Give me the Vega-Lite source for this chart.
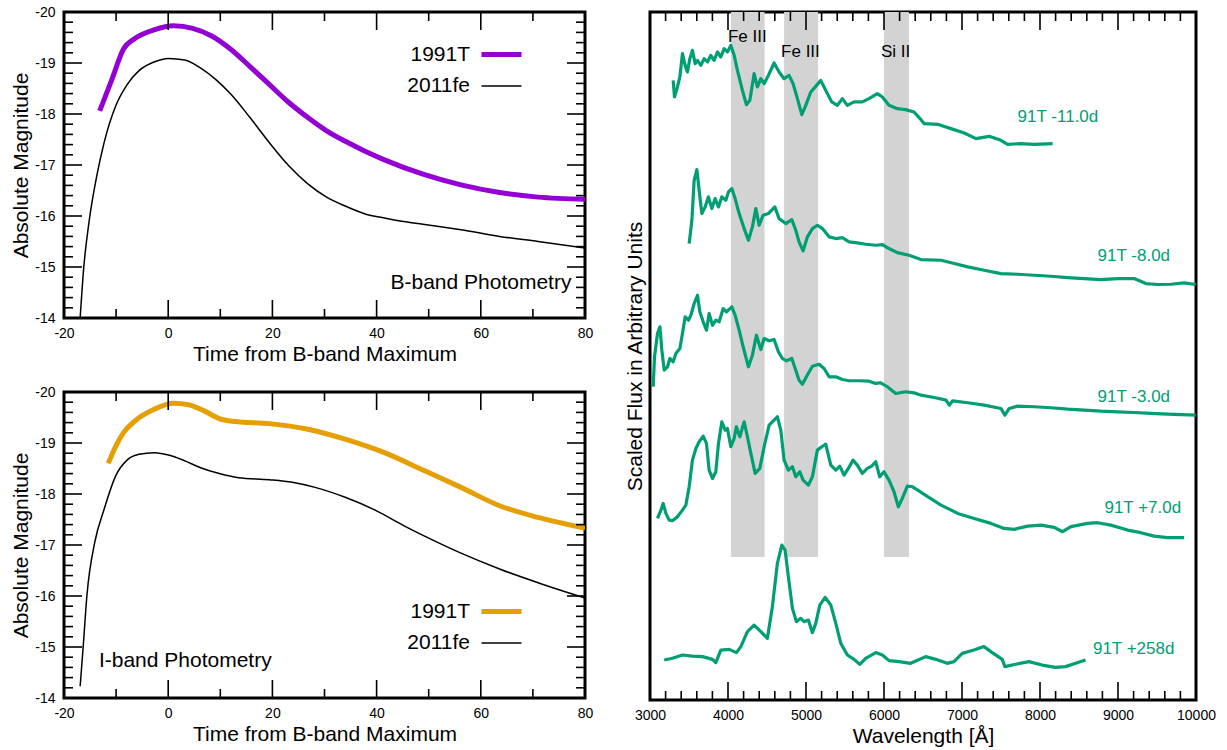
{
  "$schema": "https://vega.github.io/schema/vega-lite/v6.json",
  "background": "white",
  "padding": {"left": 9, "top": 3, "right": 5, "bottom": 5},
  "config": {
    "font": "Liberation Sans",
    "view": {"stroke": "black", "strokeWidth": 3},
    "axis": {
      "labelFont": "Liberation Sans", "titleFont": "Liberation Sans",
      "labelFontSize": 14, "titleFontSize": 21, "titleFontWeight": "normal",
      "labelColor": "black", "titleColor": "black",
      "domain": false, "grid": false, "ticks": false,
      "labelOverlap": false, "labelFlush": false
    },
    "legend": {"labelFont": "Liberation Sans"},
    "text": {"font": "Liberation Sans"}
  },
  "datasets": {
    "dayTicks": [{"t": -20}, {"t": -10}, {"t": 0}, {"t": 10}, {"t": 20}, {"t": 30}, {"t": 40}, {"t": 50}, {"t": 60}, {"t": 70}, {"t": 80}],
    "magTicks": [
      {"mag": -20}, {"mag": -19.8}, {"mag": -19.6}, {"mag": -19.4}, {"mag": -19.2}, {"mag": -19}, {"mag": -18.8}, {"mag": -18.6},
      {"mag": -18.4}, {"mag": -18.2}, {"mag": -18}, {"mag": -17.8}, {"mag": -17.6}, {"mag": -17.4}, {"mag": -17.2}, {"mag": -17},
      {"mag": -16.8}, {"mag": -16.6}, {"mag": -16.4}, {"mag": -16.2}, {"mag": -16}, {"mag": -15.8}, {"mag": -15.6}, {"mag": -15.4},
      {"mag": -15.2}, {"mag": -15}, {"mag": -14.8}, {"mag": -14.6}, {"mag": -14.4}, {"mag": -14.2}, {"mag": -14}
    ],
    "lamTicks": [
      {"lam": 3000}, {"lam": 3200}, {"lam": 3400}, {"lam": 3600}, {"lam": 3800}, {"lam": 4000}, {"lam": 4200}, {"lam": 4400},
      {"lam": 4600}, {"lam": 4800}, {"lam": 5000}, {"lam": 5200}, {"lam": 5400}, {"lam": 5600}, {"lam": 5800}, {"lam": 6000},
      {"lam": 6200}, {"lam": 6400}, {"lam": 6600}, {"lam": 6800}, {"lam": 7000}, {"lam": 7200}, {"lam": 7400}, {"lam": 7600},
      {"lam": 7800}, {"lam": 8000}, {"lam": 8200}, {"lam": 8400}, {"lam": 8600}, {"lam": 8800}, {"lam": 9000}, {"lam": 9200},
      {"lam": 9400}, {"lam": 9600}, {"lam": 9800}, {"lam": 10000}
    ],
    "bband": [
      {"sn": "1991T", "t": -13.15, "mag": -18.06}, {"sn": "1991T", "t": -10.8, "mag": -18.68},
      {"sn": "1991T", "t": -8.6, "mag": -19.27}, {"sn": "1991T", "t": -6.4, "mag": -19.48},
      {"sn": "1991T", "t": -2.7, "mag": -19.65}, {"sn": "1991T", "t": 1.0, "mag": -19.73},
      {"sn": "1991T", "t": 4.7, "mag": -19.68}, {"sn": "1991T", "t": 8.35, "mag": -19.53},
      {"sn": "1991T", "t": 12.0, "mag": -19.27}, {"sn": "1991T", "t": 15.7, "mag": -18.93},
      {"sn": "1991T", "t": 19.4, "mag": -18.58}, {"sn": "1991T", "t": 23.1, "mag": -18.23},
      {"sn": "1991T", "t": 26.8, "mag": -17.93}, {"sn": "1991T", "t": 30.4, "mag": -17.67},
      {"sn": "1991T", "t": 34.1, "mag": -17.46}, {"sn": "1991T", "t": 37.8, "mag": -17.27},
      {"sn": "1991T", "t": 41.5, "mag": -17.10}, {"sn": "1991T", "t": 48.9, "mag": -16.82},
      {"sn": "1991T", "t": 56.2, "mag": -16.61}, {"sn": "1991T", "t": 63.6, "mag": -16.46},
      {"sn": "1991T", "t": 71.0, "mag": -16.37}, {"sn": "1991T", "t": 80.0, "mag": -16.33},
      {"sn": "2011fe", "t": -16.9, "mag": -14.0}, {"sn": "2011fe", "t": -16.2, "mag": -15.0},
      {"sn": "2011fe", "t": -15.2, "mag": -15.88}, {"sn": "2011fe", "t": -13.7, "mag": -16.79},
      {"sn": "2011fe", "t": -12.3, "mag": -17.44}, {"sn": "2011fe", "t": -10.06, "mag": -18.16},
      {"sn": "2011fe", "t": -7.85, "mag": -18.58}, {"sn": "2011fe", "t": -5.6, "mag": -18.85},
      {"sn": "2011fe", "t": -2.7, "mag": -19.02}, {"sn": "2011fe", "t": 0.0, "mag": -19.09},
      {"sn": "2011fe", "t": 3.2, "mag": -19.06}, {"sn": "2011fe", "t": 6.1, "mag": -18.91},
      {"sn": "2011fe", "t": 9.1, "mag": -18.68}, {"sn": "2011fe", "t": 12.0, "mag": -18.39},
      {"sn": "2011fe", "t": 15.7, "mag": -17.93}, {"sn": "2011fe", "t": 19.4, "mag": -17.44},
      {"sn": "2011fe", "t": 23.1, "mag": -16.99}, {"sn": "2011fe", "t": 26.8, "mag": -16.63},
      {"sn": "2011fe", "t": 30.4, "mag": -16.37}, {"sn": "2011fe", "t": 34.1, "mag": -16.19},
      {"sn": "2011fe", "t": 37.8, "mag": -16.04}, {"sn": "2011fe", "t": 41.5, "mag": -15.96},
      {"sn": "2011fe", "t": 45.2, "mag": -15.89}, {"sn": "2011fe", "t": 48.9, "mag": -15.84},
      {"sn": "2011fe", "t": 56.2, "mag": -15.73}, {"sn": "2011fe", "t": 63.6, "mag": -15.60},
      {"sn": "2011fe", "t": 71.0, "mag": -15.50}, {"sn": "2011fe", "t": 80.0, "mag": -15.37}
    ],
    "iband": [
      {"sn": "1991T", "t": -11.5, "mag": -18.60}, {"sn": "1991T", "t": -10.06, "mag": -18.94},
      {"sn": "1991T", "t": -8.6, "mag": -19.2}, {"sn": "1991T", "t": -6.4, "mag": -19.43},
      {"sn": "1991T", "t": -2.7, "mag": -19.66}, {"sn": "1991T", "t": 1.0, "mag": -19.78},
      {"sn": "1991T", "t": 3.9, "mag": -19.75}, {"sn": "1991T", "t": 6.9, "mag": -19.63},
      {"sn": "1991T", "t": 9.8, "mag": -19.48}, {"sn": "1991T", "t": 12.8, "mag": -19.42},
      {"sn": "1991T", "t": 19.4, "mag": -19.38}, {"sn": "1991T", "t": 26.8, "mag": -19.27},
      {"sn": "1991T", "t": 34.1, "mag": -19.07}, {"sn": "1991T", "t": 41.5, "mag": -18.81},
      {"sn": "1991T", "t": 48.9, "mag": -18.47}, {"sn": "1991T", "t": 56.2, "mag": -18.13},
      {"sn": "1991T", "t": 63.6, "mag": -17.77}, {"sn": "1991T", "t": 71.0, "mag": -17.54},
      {"sn": "1991T", "t": 80.0, "mag": -17.33},
      {"sn": "2011fe", "t": -16.9, "mag": -14.23}, {"sn": "2011fe", "t": -16.3, "mag": -15.03},
      {"sn": "2011fe", "t": -15.6, "mag": -16.01}, {"sn": "2011fe", "t": -14.1, "mag": -17.05},
      {"sn": "2011fe", "t": -12.3, "mag": -17.70}, {"sn": "2011fe", "t": -10.06, "mag": -18.36},
      {"sn": "2011fe", "t": -7.85, "mag": -18.67}, {"sn": "2011fe", "t": -5.6, "mag": -18.78},
      {"sn": "2011fe", "t": -2.7, "mag": -18.81}, {"sn": "2011fe", "t": 0.25, "mag": -18.76},
      {"sn": "2011fe", "t": 3.2, "mag": -18.65}, {"sn": "2011fe", "t": 6.1, "mag": -18.52},
      {"sn": "2011fe", "t": 9.8, "mag": -18.40}, {"sn": "2011fe", "t": 13.5, "mag": -18.32},
      {"sn": "2011fe", "t": 19.4, "mag": -18.28}, {"sn": "2011fe", "t": 23.8, "mag": -18.23},
      {"sn": "2011fe", "t": 28.2, "mag": -18.13}, {"sn": "2011fe", "t": 34.1, "mag": -17.93},
      {"sn": "2011fe", "t": 40.0, "mag": -17.67}, {"sn": "2011fe", "t": 45.2, "mag": -17.38},
      {"sn": "2011fe", "t": 50.3, "mag": -17.12}, {"sn": "2011fe", "t": 56.2, "mag": -16.84},
      {"sn": "2011fe", "t": 63.6, "mag": -16.53}, {"sn": "2011fe", "t": 71.0, "mag": -16.26},
      {"sn": "2011fe", "t": 80.0, "mag": -15.96}
    ],
    "bands": [
      {"ion": "Fe III", "lo": 4037, "hi": 4469},
      {"ion": "Fe III", "lo": 4719, "hi": 5155},
      {"ion": "Si II", "lo": 5999, "hi": 6320}
    ],
    "spectra": [
      {"epoch": "-11.0d", "lam": 3297, "flux": 9.006}, {"epoch": "-11.0d", "lam": 3314, "flux": 8.765},
      {"epoch": "-11.0d", "lam": 3352, "flux": 8.911}, {"epoch": "-11.0d", "lam": 3383, "flux": 9.056},
      {"epoch": "-11.0d", "lam": 3416, "flux": 9.394}, {"epoch": "-11.0d", "lam": 3451, "flux": 9.224},
      {"epoch": "-11.0d", "lam": 3480, "flux": 9.128}, {"epoch": "-11.0d", "lam": 3511, "flux": 9.322},
      {"epoch": "-11.0d", "lam": 3544, "flux": 9.442}, {"epoch": "-11.0d", "lam": 3579, "flux": 9.249},
      {"epoch": "-11.0d", "lam": 3609, "flux": 9.297}, {"epoch": "-11.0d", "lam": 3652, "flux": 9.224},
      {"epoch": "-11.0d", "lam": 3694, "flux": 9.322}, {"epoch": "-11.0d", "lam": 3737, "flux": 9.274},
      {"epoch": "-11.0d", "lam": 3780, "flux": 9.370}, {"epoch": "-11.0d", "lam": 3822, "flux": 9.297},
      {"epoch": "-11.0d", "lam": 3865, "flux": 9.419}, {"epoch": "-11.0d", "lam": 3908, "flux": 9.346},
      {"epoch": "-11.0d", "lam": 3951, "flux": 9.467}, {"epoch": "-11.0d", "lam": 3993, "flux": 9.419},
      {"epoch": "-11.0d", "lam": 4036, "flux": 9.515}, {"epoch": "-11.0d", "lam": 4079, "flux": 9.370},
      {"epoch": "-11.0d", "lam": 4121, "flux": 9.151}, {"epoch": "-11.0d", "lam": 4185, "flux": 8.861},
      {"epoch": "-11.0d", "lam": 4236, "flux": 8.653}, {"epoch": "-11.0d", "lam": 4280, "flux": 8.716},
      {"epoch": "-11.0d", "lam": 4335, "flux": 9.104}, {"epoch": "-11.0d", "lam": 4377, "flux": 8.911},
      {"epoch": "-11.0d", "lam": 4421, "flux": 9.031}, {"epoch": "-11.0d", "lam": 4463, "flux": 8.958},
      {"epoch": "-11.0d", "lam": 4518, "flux": 9.079}, {"epoch": "-11.0d", "lam": 4591, "flux": 9.259},
      {"epoch": "-11.0d", "lam": 4655, "flux": 9.128}, {"epoch": "-11.0d", "lam": 4719, "flux": 9.031},
      {"epoch": "-11.0d", "lam": 4783, "flux": 9.079}, {"epoch": "-11.0d", "lam": 4835, "flux": 8.958},
      {"epoch": "-11.0d", "lam": 4890, "flux": 8.741}, {"epoch": "-11.0d", "lam": 4946, "flux": 8.508},
      {"epoch": "-11.0d", "lam": 4997, "flux": 8.643}, {"epoch": "-11.0d", "lam": 5061, "flux": 8.838},
      {"epoch": "-11.0d", "lam": 5125, "flux": 8.919}, {"epoch": "-11.0d", "lam": 5189, "flux": 9.006},
      {"epoch": "-11.0d", "lam": 5253, "flux": 8.861}, {"epoch": "-11.0d", "lam": 5330, "flux": 8.693},
      {"epoch": "-11.0d", "lam": 5402, "flux": 8.643}, {"epoch": "-11.0d", "lam": 5466, "flux": 8.741},
      {"epoch": "-11.0d", "lam": 5530, "flux": 8.643}, {"epoch": "-11.0d", "lam": 5616, "flux": 8.693},
      {"epoch": "-11.0d", "lam": 5722, "flux": 8.693}, {"epoch": "-11.0d", "lam": 5808, "flux": 8.741},
      {"epoch": "-11.0d", "lam": 5915, "flux": 8.813}, {"epoch": "-11.0d", "lam": 5979, "flux": 8.765},
      {"epoch": "-11.0d", "lam": 6064, "flux": 8.643}, {"epoch": "-11.0d", "lam": 6171, "flux": 8.595},
      {"epoch": "-11.0d", "lam": 6278, "flux": 8.581}, {"epoch": "-11.0d", "lam": 6385, "flux": 8.547},
      {"epoch": "-11.0d", "lam": 6474, "flux": 8.435}, {"epoch": "-11.0d", "lam": 6517, "flux": 8.377},
      {"epoch": "-11.0d", "lam": 6688, "flux": 8.367}, {"epoch": "-11.0d", "lam": 6859, "flux": 8.305},
      {"epoch": "-11.0d", "lam": 7029, "flux": 8.242}, {"epoch": "-11.0d", "lam": 7179, "flux": 8.160},
      {"epoch": "-11.0d", "lam": 7349, "flux": 8.193}, {"epoch": "-11.0d", "lam": 7499, "flux": 8.135},
      {"epoch": "-11.0d", "lam": 7585, "flux": 8.077}, {"epoch": "-11.0d", "lam": 7755, "flux": 8.087},
      {"epoch": "-11.0d", "lam": 7926, "flux": 8.077}, {"epoch": "-11.0d", "lam": 8162, "flux": 8.087},

      {"epoch": "-8.0d", "lam": 3502, "flux": 6.634}, {"epoch": "-8.0d", "lam": 3537, "flux": 6.973},
      {"epoch": "-8.0d", "lam": 3566, "flux": 7.554}, {"epoch": "-8.0d", "lam": 3601, "flux": 7.709},
      {"epoch": "-8.0d", "lam": 3630, "flux": 7.408}, {"epoch": "-8.0d", "lam": 3665, "flux": 7.070},
      {"epoch": "-8.0d", "lam": 3707, "flux": 7.167}, {"epoch": "-8.0d", "lam": 3749, "flux": 7.313},
      {"epoch": "-8.0d", "lam": 3793, "flux": 7.143}, {"epoch": "-8.0d", "lam": 3835, "flux": 7.288},
      {"epoch": "-8.0d", "lam": 3878, "flux": 7.167}, {"epoch": "-8.0d", "lam": 3921, "flux": 7.313},
      {"epoch": "-8.0d", "lam": 3972, "flux": 7.263}, {"epoch": "-8.0d", "lam": 4006, "flux": 7.385},
      {"epoch": "-8.0d", "lam": 4049, "flux": 7.433}, {"epoch": "-8.0d", "lam": 4091, "flux": 7.288},
      {"epoch": "-8.0d", "lam": 4143, "flux": 7.070}, {"epoch": "-8.0d", "lam": 4207, "flux": 6.852},
      {"epoch": "-8.0d", "lam": 4262, "flux": 6.682}, {"epoch": "-8.0d", "lam": 4313, "flux": 6.877},
      {"epoch": "-8.0d", "lam": 4357, "flux": 7.143}, {"epoch": "-8.0d", "lam": 4399, "flux": 6.900},
      {"epoch": "-8.0d", "lam": 4450, "flux": 7.045}, {"epoch": "-8.0d", "lam": 4518, "flux": 7.070},
      {"epoch": "-8.0d", "lam": 4600, "flux": 7.167}, {"epoch": "-8.0d", "lam": 4655, "flux": 6.997},
      {"epoch": "-8.0d", "lam": 4741, "flux": 6.925}, {"epoch": "-8.0d", "lam": 4818, "flux": 6.983},
      {"epoch": "-8.0d", "lam": 4869, "flux": 6.827}, {"epoch": "-8.0d", "lam": 4911, "flux": 6.659},
      {"epoch": "-8.0d", "lam": 4963, "flux": 6.528}, {"epoch": "-8.0d", "lam": 5018, "flux": 6.732},
      {"epoch": "-8.0d", "lam": 5082, "flux": 6.852}, {"epoch": "-8.0d", "lam": 5146, "flux": 6.900},
      {"epoch": "-8.0d", "lam": 5210, "flux": 6.852}, {"epoch": "-8.0d", "lam": 5296, "flux": 6.732},
      {"epoch": "-8.0d", "lam": 5382, "flux": 6.707}, {"epoch": "-8.0d", "lam": 5466, "flux": 6.721},
      {"epoch": "-8.0d", "lam": 5552, "flux": 6.659}, {"epoch": "-8.0d", "lam": 5658, "flux": 6.644},
      {"epoch": "-8.0d", "lam": 5766, "flux": 6.624}, {"epoch": "-8.0d", "lam": 5894, "flux": 6.610},
      {"epoch": "-8.0d", "lam": 5979, "flux": 6.620}, {"epoch": "-8.0d", "lam": 6064, "flux": 6.562},
      {"epoch": "-8.0d", "lam": 6171, "flux": 6.503}, {"epoch": "-8.0d", "lam": 6321, "flux": 6.464},
      {"epoch": "-8.0d", "lam": 6474, "flux": 6.402}, {"epoch": "-8.0d", "lam": 6731, "flux": 6.392},
      {"epoch": "-8.0d", "lam": 6901, "flux": 6.344}, {"epoch": "-8.0d", "lam": 7073, "flux": 6.296},
      {"epoch": "-8.0d", "lam": 7285, "flux": 6.246}, {"epoch": "-8.0d", "lam": 7499, "flux": 6.198},
      {"epoch": "-8.0d", "lam": 7713, "flux": 6.188}, {"epoch": "-8.0d", "lam": 7926, "flux": 6.174},
      {"epoch": "-8.0d", "lam": 8140, "flux": 6.159}, {"epoch": "-8.0d", "lam": 8354, "flux": 6.140},
      {"epoch": "-8.0d", "lam": 8567, "flux": 6.126}, {"epoch": "-8.0d", "lam": 8780, "flux": 6.111},
      {"epoch": "-8.0d", "lam": 8994, "flux": 6.126}, {"epoch": "-8.0d", "lam": 9207, "flux": 6.126},
      {"epoch": "-8.0d", "lam": 9357, "flux": 6.053}, {"epoch": "-8.0d", "lam": 9507, "flux": 6.039},
      {"epoch": "-8.0d", "lam": 9678, "flux": 6.043}, {"epoch": "-8.0d", "lam": 9848, "flux": 6.063},
      {"epoch": "-8.0d", "lam": 9998, "flux": 6.039},

      {"epoch": "-3.0d", "lam": 3041, "flux": 4.553}, {"epoch": "-3.0d", "lam": 3058, "flux": 4.988},
      {"epoch": "-3.0d", "lam": 3096, "flux": 5.327}, {"epoch": "-3.0d", "lam": 3127, "flux": 5.424},
      {"epoch": "-3.0d", "lam": 3152, "flux": 5.084}, {"epoch": "-3.0d", "lam": 3182, "flux": 4.794},
      {"epoch": "-3.0d", "lam": 3224, "flux": 4.843}, {"epoch": "-3.0d", "lam": 3255, "flux": 4.964},
      {"epoch": "-3.0d", "lam": 3297, "flux": 4.916}, {"epoch": "-3.0d", "lam": 3332, "flux": 5.036},
      {"epoch": "-3.0d", "lam": 3383, "flux": 5.109}, {"epoch": "-3.0d", "lam": 3416, "flux": 5.327},
      {"epoch": "-3.0d", "lam": 3451, "flux": 5.569}, {"epoch": "-3.0d", "lam": 3493, "flux": 5.520},
      {"epoch": "-3.0d", "lam": 3524, "flux": 5.593}, {"epoch": "-3.0d", "lam": 3566, "flux": 5.763},
      {"epoch": "-3.0d", "lam": 3609, "flux": 5.883}, {"epoch": "-3.0d", "lam": 3639, "flux": 5.642},
      {"epoch": "-3.0d", "lam": 3682, "flux": 5.497}, {"epoch": "-3.0d", "lam": 3724, "flux": 5.375},
      {"epoch": "-3.0d", "lam": 3758, "flux": 5.617}, {"epoch": "-3.0d", "lam": 3801, "flux": 5.447},
      {"epoch": "-3.0d", "lam": 3844, "flux": 5.520}, {"epoch": "-3.0d", "lam": 3887, "flux": 5.497},
      {"epoch": "-3.0d", "lam": 3938, "flux": 5.690}, {"epoch": "-3.0d", "lam": 3980, "flux": 5.642},
      {"epoch": "-3.0d", "lam": 4049, "flux": 5.715}, {"epoch": "-3.0d", "lam": 4091, "flux": 5.593},
      {"epoch": "-3.0d", "lam": 4143, "flux": 5.375}, {"epoch": "-3.0d", "lam": 4194, "flux": 5.134},
      {"epoch": "-3.0d", "lam": 4262, "flux": 4.843}, {"epoch": "-3.0d", "lam": 4313, "flux": 5.012},
      {"epoch": "-3.0d", "lam": 4364, "flux": 5.302}, {"epoch": "-3.0d", "lam": 4421, "flux": 5.094},
      {"epoch": "-3.0d", "lam": 4463, "flux": 5.254}, {"epoch": "-3.0d", "lam": 4527, "flux": 5.221},
      {"epoch": "-3.0d", "lam": 4591, "flux": 5.240}, {"epoch": "-3.0d", "lam": 4646, "flux": 5.061},
      {"epoch": "-3.0d", "lam": 4697, "flux": 4.964}, {"epoch": "-3.0d", "lam": 4749, "flux": 4.930},
      {"epoch": "-3.0d", "lam": 4818, "flux": 4.964}, {"epoch": "-3.0d", "lam": 4869, "flux": 4.794},
      {"epoch": "-3.0d", "lam": 4911, "flux": 4.648}, {"epoch": "-3.0d", "lam": 4954, "flux": 4.590},
      {"epoch": "-3.0d", "lam": 5005, "flux": 4.698}, {"epoch": "-3.0d", "lam": 5082, "flux": 4.852},
      {"epoch": "-3.0d", "lam": 5168, "flux": 4.881}, {"epoch": "-3.0d", "lam": 5232, "flux": 4.818},
      {"epoch": "-3.0d", "lam": 5296, "flux": 4.698}, {"epoch": "-3.0d", "lam": 5382, "flux": 4.698},
      {"epoch": "-3.0d", "lam": 5466, "flux": 4.659}, {"epoch": "-3.0d", "lam": 5552, "flux": 4.640},
      {"epoch": "-3.0d", "lam": 5680, "flux": 4.640}, {"epoch": "-3.0d", "lam": 5808, "flux": 4.634},
      {"epoch": "-3.0d", "lam": 5894, "flux": 4.601}, {"epoch": "-3.0d", "lam": 5958, "flux": 4.611},
      {"epoch": "-3.0d", "lam": 6043, "flux": 4.553}, {"epoch": "-3.0d", "lam": 6150, "flux": 4.455},
      {"epoch": "-3.0d", "lam": 6278, "flux": 4.480}, {"epoch": "-3.0d", "lam": 6385, "flux": 4.465},
      {"epoch": "-3.0d", "lam": 6474, "flux": 4.431}, {"epoch": "-3.0d", "lam": 6645, "flux": 4.397},
      {"epoch": "-3.0d", "lam": 6795, "flux": 4.358}, {"epoch": "-3.0d", "lam": 6837, "flux": 4.285},
      {"epoch": "-3.0d", "lam": 6880, "flux": 4.349}, {"epoch": "-3.0d", "lam": 7073, "flux": 4.320},
      {"epoch": "-3.0d", "lam": 7285, "flux": 4.285}, {"epoch": "-3.0d", "lam": 7499, "flux": 4.237},
      {"epoch": "-3.0d", "lam": 7550, "flux": 4.140}, {"epoch": "-3.0d", "lam": 7606, "flux": 4.237},
      {"epoch": "-3.0d", "lam": 7713, "flux": 4.271}, {"epoch": "-3.0d", "lam": 7926, "flux": 4.262},
      {"epoch": "-3.0d", "lam": 8140, "flux": 4.248}, {"epoch": "-3.0d", "lam": 8354, "flux": 4.227},
      {"epoch": "-3.0d", "lam": 8567, "flux": 4.213}, {"epoch": "-3.0d", "lam": 8780, "flux": 4.198},
      {"epoch": "-3.0d", "lam": 8994, "flux": 4.189}, {"epoch": "-3.0d", "lam": 9207, "flux": 4.179},
      {"epoch": "-3.0d", "lam": 9420, "flux": 4.165}, {"epoch": "-3.0d", "lam": 9635, "flux": 4.155},
      {"epoch": "-3.0d", "lam": 9997, "flux": 4.140},

      {"epoch": "+7.0d", "lam": 3096, "flux": 2.639}, {"epoch": "+7.0d", "lam": 3140, "flux": 2.760},
      {"epoch": "+7.0d", "lam": 3169, "flux": 2.857}, {"epoch": "+7.0d", "lam": 3204, "flux": 2.712},
      {"epoch": "+7.0d", "lam": 3246, "flux": 2.615}, {"epoch": "+7.0d", "lam": 3288, "flux": 2.606},
      {"epoch": "+7.0d", "lam": 3352, "flux": 2.664}, {"epoch": "+7.0d", "lam": 3416, "flux": 2.760},
      {"epoch": "+7.0d", "lam": 3460, "flux": 2.833}, {"epoch": "+7.0d", "lam": 3502, "flux": 3.100},
      {"epoch": "+7.0d", "lam": 3544, "flux": 3.486}, {"epoch": "+7.0d", "lam": 3588, "flux": 3.656},
      {"epoch": "+7.0d", "lam": 3630, "flux": 3.754}, {"epoch": "+7.0d", "lam": 3682, "flux": 3.835},
      {"epoch": "+7.0d", "lam": 3724, "flux": 3.729}, {"epoch": "+7.0d", "lam": 3758, "flux": 3.341},
      {"epoch": "+7.0d", "lam": 3801, "flux": 3.220}, {"epoch": "+7.0d", "lam": 3844, "flux": 3.318},
      {"epoch": "+7.0d", "lam": 3878, "flux": 3.729}, {"epoch": "+7.0d", "lam": 3921, "flux": 4.044},
      {"epoch": "+7.0d", "lam": 3963, "flux": 3.922}, {"epoch": "+7.0d", "lam": 3993, "flux": 3.947},
      {"epoch": "+7.0d", "lam": 4036, "flux": 3.681}, {"epoch": "+7.0d", "lam": 4079, "flux": 3.802},
      {"epoch": "+7.0d", "lam": 4108, "flux": 3.972}, {"epoch": "+7.0d", "lam": 4152, "flux": 3.826},
      {"epoch": "+7.0d", "lam": 4207, "flux": 4.044}, {"epoch": "+7.0d", "lam": 4249, "flux": 3.826},
      {"epoch": "+7.0d", "lam": 4293, "flux": 3.584}, {"epoch": "+7.0d", "lam": 4348, "flux": 3.293},
      {"epoch": "+7.0d", "lam": 4408, "flux": 3.366}, {"epoch": "+7.0d", "lam": 4463, "flux": 3.681},
      {"epoch": "+7.0d", "lam": 4527, "flux": 3.995}, {"epoch": "+7.0d", "lam": 4591, "flux": 4.067},
      {"epoch": "+7.0d", "lam": 4633, "flux": 4.117}, {"epoch": "+7.0d", "lam": 4677, "flux": 3.922},
      {"epoch": "+7.0d", "lam": 4719, "flux": 3.486}, {"epoch": "+7.0d", "lam": 4774, "flux": 3.341},
      {"epoch": "+7.0d", "lam": 4826, "flux": 3.390}, {"epoch": "+7.0d", "lam": 4869, "flux": 3.245},
      {"epoch": "+7.0d", "lam": 4920, "flux": 3.318}, {"epoch": "+7.0d", "lam": 4963, "flux": 3.196},
      {"epoch": "+7.0d", "lam": 5031, "flux": 3.123}, {"epoch": "+7.0d", "lam": 5082, "flux": 3.245},
      {"epoch": "+7.0d", "lam": 5146, "flux": 3.632}, {"epoch": "+7.0d", "lam": 5202, "flux": 3.681},
      {"epoch": "+7.0d", "lam": 5253, "flux": 3.719}, {"epoch": "+7.0d", "lam": 5318, "flux": 3.414},
      {"epoch": "+7.0d", "lam": 5382, "flux": 3.341}, {"epoch": "+7.0d", "lam": 5433, "flux": 3.399},
      {"epoch": "+7.0d", "lam": 5488, "flux": 3.268}, {"epoch": "+7.0d", "lam": 5543, "flux": 3.366},
      {"epoch": "+7.0d", "lam": 5603, "flux": 3.486}, {"epoch": "+7.0d", "lam": 5658, "flux": 3.414},
      {"epoch": "+7.0d", "lam": 5722, "flux": 3.293}, {"epoch": "+7.0d", "lam": 5786, "flux": 3.366},
      {"epoch": "+7.0d", "lam": 5843, "flux": 3.399}, {"epoch": "+7.0d", "lam": 5894, "flux": 3.463},
      {"epoch": "+7.0d", "lam": 5945, "flux": 3.245}, {"epoch": "+7.0d", "lam": 6000, "flux": 3.318},
      {"epoch": "+7.0d", "lam": 6064, "flux": 3.196}, {"epoch": "+7.0d", "lam": 6128, "flux": 3.027},
      {"epoch": "+7.0d", "lam": 6184, "flux": 2.809}, {"epoch": "+7.0d", "lam": 6235, "flux": 2.930},
      {"epoch": "+7.0d", "lam": 6299, "flux": 3.109}, {"epoch": "+7.0d", "lam": 6363, "flux": 3.100},
      {"epoch": "+7.0d", "lam": 6432, "flux": 3.051}, {"epoch": "+7.0d", "lam": 6560, "flux": 2.955},
      {"epoch": "+7.0d", "lam": 6731, "flux": 2.833}, {"epoch": "+7.0d", "lam": 6945, "flux": 2.712},
      {"epoch": "+7.0d", "lam": 7157, "flux": 2.639}, {"epoch": "+7.0d", "lam": 7371, "flux": 2.567},
      {"epoch": "+7.0d", "lam": 7542, "flux": 2.494}, {"epoch": "+7.0d", "lam": 7670, "flux": 2.480},
      {"epoch": "+7.0d", "lam": 7841, "flux": 2.528}, {"epoch": "+7.0d", "lam": 8012, "flux": 2.542},
      {"epoch": "+7.0d", "lam": 8182, "flux": 2.509}, {"epoch": "+7.0d", "lam": 8290, "flux": 2.446},
      {"epoch": "+7.0d", "lam": 8396, "flux": 2.519}, {"epoch": "+7.0d", "lam": 8610, "flux": 2.567},
      {"epoch": "+7.0d", "lam": 8738, "flux": 2.577}, {"epoch": "+7.0d", "lam": 8908, "flux": 2.542},
      {"epoch": "+7.0d", "lam": 9122, "flux": 2.470}, {"epoch": "+7.0d", "lam": 9293, "flux": 2.432},
      {"epoch": "+7.0d", "lam": 9463, "flux": 2.382}, {"epoch": "+7.0d", "lam": 9635, "flux": 2.359},
      {"epoch": "+7.0d", "lam": 9848, "flux": 2.359},

      {"epoch": "+258d", "lam": 3182, "flux": 0.581}, {"epoch": "+258d", "lam": 3288, "flux": 0.606},
      {"epoch": "+258d", "lam": 3416, "flux": 0.654}, {"epoch": "+258d", "lam": 3544, "flux": 0.639},
      {"epoch": "+258d", "lam": 3673, "flux": 0.630}, {"epoch": "+258d", "lam": 3801, "flux": 0.591},
      {"epoch": "+258d", "lam": 3844, "flux": 0.543}, {"epoch": "+258d", "lam": 3908, "flux": 0.726},
      {"epoch": "+258d", "lam": 4015, "flux": 0.736}, {"epoch": "+258d", "lam": 4108, "flux": 0.689},
      {"epoch": "+258d", "lam": 4165, "flux": 0.776}, {"epoch": "+258d", "lam": 4249, "flux": 0.994},
      {"epoch": "+258d", "lam": 4335, "flux": 1.089}, {"epoch": "+258d", "lam": 4421, "flux": 0.994},
      {"epoch": "+258d", "lam": 4505, "flux": 0.896}, {"epoch": "+258d", "lam": 4569, "flux": 1.357},
      {"epoch": "+258d", "lam": 4633, "flux": 1.986}, {"epoch": "+258d", "lam": 4690, "flux": 2.252},
      {"epoch": "+258d", "lam": 4732, "flux": 2.179}, {"epoch": "+258d", "lam": 4774, "flux": 1.793},
      {"epoch": "+258d", "lam": 4826, "flux": 1.332}, {"epoch": "+258d", "lam": 4877, "flux": 1.139},
      {"epoch": "+258d", "lam": 4933, "flux": 1.187}, {"epoch": "+258d", "lam": 4975, "flux": 1.139},
      {"epoch": "+258d", "lam": 5031, "flux": 1.162}, {"epoch": "+258d", "lam": 5082, "flux": 0.979},
      {"epoch": "+258d", "lam": 5125, "flux": 1.114}, {"epoch": "+258d", "lam": 5177, "flux": 1.380},
      {"epoch": "+258d", "lam": 5245, "flux": 1.492}, {"epoch": "+258d", "lam": 5318, "flux": 1.380},
      {"epoch": "+258d", "lam": 5382, "flux": 1.114}, {"epoch": "+258d", "lam": 5446, "flux": 0.824},
      {"epoch": "+258d", "lam": 5530, "flux": 0.654}, {"epoch": "+258d", "lam": 5616, "flux": 0.591},
      {"epoch": "+258d", "lam": 5689, "flux": 0.519}, {"epoch": "+258d", "lam": 5766, "flux": 0.606},
      {"epoch": "+258d", "lam": 5894, "flux": 0.689}, {"epoch": "+258d", "lam": 5979, "flux": 0.654},
      {"epoch": "+258d", "lam": 6064, "flux": 0.572}, {"epoch": "+258d", "lam": 6193, "flux": 0.558},
      {"epoch": "+258d", "lam": 6342, "flux": 0.533}, {"epoch": "+258d", "lam": 6535, "flux": 0.630},
      {"epoch": "+258d", "lam": 6663, "flux": 0.591}, {"epoch": "+258d", "lam": 6811, "flux": 0.533},
      {"epoch": "+258d", "lam": 6897, "flux": 0.558}, {"epoch": "+258d", "lam": 7003, "flux": 0.678},
      {"epoch": "+258d", "lam": 7153, "flux": 0.726}, {"epoch": "+258d", "lam": 7281, "flux": 0.776},
      {"epoch": "+258d", "lam": 7388, "flux": 0.689}, {"epoch": "+258d", "lam": 7516, "flux": 0.591},
      {"epoch": "+258d", "lam": 7550, "flux": 0.485}, {"epoch": "+258d", "lam": 7688, "flux": 0.519},
      {"epoch": "+258d", "lam": 7858, "flux": 0.558}, {"epoch": "+258d", "lam": 8028, "flux": 0.508},
      {"epoch": "+258d", "lam": 8200, "flux": 0.475}, {"epoch": "+258d", "lam": 8328, "flux": 0.485},
      {"epoch": "+258d", "lam": 8456, "flux": 0.533}, {"epoch": "+258d", "lam": 8584, "flux": 0.581}
    ]
  },
  "hconcat": [
    {
      "vconcat": [
        {
          "width": 521, "height": 306,
          "layer": [
            {
              "data": {"name": "bband"},
              "mark": {"type": "line", "interpolate": "monotone", "clip": true},
              "encoding": {
                "x": {"field": "t", "type": "quantitative", "scale": {"domain": [-20, 80], "nice": false, "zero": false},
                  "axis": {"orient": "bottom", "values": [-20, 0, 20, 40, 60, 80],
                    "labelExpr": "'' + datum.value", "labelPadding": 8, "title": "Time from B-band Maximum", "titlePadding": 3}},
                "y": {"field": "mag", "type": "quantitative", "scale": {"domain": [-20, -14], "reverse": true, "nice": false, "zero": false},
                  "axis": {"orient": "left", "values": [-20, -19, -18, -17, -16, -15, -14],
                    "labelExpr": "'' + datum.value", "labelPadding": 9, "title": "Absolute Magnitude", "titlePadding": 3}},
                "color": {"field": "sn", "type": "nominal", "scale": {"domain": ["1991T", "2011fe"], "range": ["#9400D3", "#000000"]},
                  "legend": {"orient": "none", "legendX": 415, "legendY": 20, "title": null, "columns": 1, "symbolType": "stroke", "symbolSize": 1600,
                    "labelAlign": "right", "labelOffset": -54, "labelFontSize": 21, "labelColor": "black", "rowPadding": 0, "padding": 0}},
                "strokeWidth": {"field": "sn", "type": "nominal", "scale": {"domain": ["1991T", "2011fe"], "range": [5, 1.5]},
                  "legend": {"orient": "none", "legendX": 415, "legendY": 20, "title": null, "columns": 1, "symbolType": "stroke", "symbolSize": 1600,
                    "labelAlign": "right", "labelOffset": -54, "labelFontSize": 21, "labelColor": "black", "rowPadding": 0, "padding": 0}}
              }
            },
            {
              "data": {"values": [{"label": "B-band Photometry"}]},
              "mark": {"type": "text", "align": "right", "baseline": "middle", "fontSize": 21, "color": "black"},
              "encoding": {
                "x": {"datum": 77.4, "type": "quantitative", "scale": {"domain": [-20, 80], "nice": false, "zero": false}, "axis": null},
                "y": {"datum": -14.68, "type": "quantitative", "scale": {"domain": [-20, -14], "reverse": true, "nice": false, "zero": false}, "axis": null},
                "text": {"field": "label"}
              }
            },
            {
              "data": {"name": "dayTicks"}, "transform": [{"filter": "datum.t % 20 === 0"}],
              "mark": {"type": "rule", "color": "black", "strokeWidth": 1.6},
              "encoding": {
                "x": {"field": "t", "type": "quantitative", "scale": {"domain": [-20, 80], "nice": false, "zero": false}, "axis": null},
                "y": {"datum": -14, "type": "quantitative", "scale": {"domain": [-20, -14], "reverse": true, "nice": false, "zero": false}, "axis": null},
                "y2": {"datum": -14.353}
              }
            },
            {
              "data": {"name": "dayTicks"}, "transform": [{"filter": "datum.t % 20 === 0"}],
              "mark": {"type": "rule", "color": "black", "strokeWidth": 1.6},
              "encoding": {
                "x": {"field": "t", "type": "quantitative", "scale": {"domain": [-20, 80], "nice": false, "zero": false}, "axis": null},
                "y": {"datum": -20, "type": "quantitative", "scale": {"domain": [-20, -14], "reverse": true, "nice": false, "zero": false}, "axis": null},
                "y2": {"datum": -19.647}
              }
            },
            {
              "data": {"name": "dayTicks"}, "transform": [{"filter": "datum.t % 20 !== 0"}],
              "mark": {"type": "rule", "color": "black", "strokeWidth": 1.6},
              "encoding": {
                "x": {"field": "t", "type": "quantitative", "scale": {"domain": [-20, 80], "nice": false, "zero": false}, "axis": null},
                "y": {"datum": -14, "type": "quantitative", "scale": {"domain": [-20, -14], "reverse": true, "nice": false, "zero": false}, "axis": null},
                "y2": {"datum": -14.176}
              }
            },
            {
              "data": {"name": "dayTicks"}, "transform": [{"filter": "datum.t % 20 !== 0"}],
              "mark": {"type": "rule", "color": "black", "strokeWidth": 1.6},
              "encoding": {
                "x": {"field": "t", "type": "quantitative", "scale": {"domain": [-20, 80], "nice": false, "zero": false}, "axis": null},
                "y": {"datum": -20, "type": "quantitative", "scale": {"domain": [-20, -14], "reverse": true, "nice": false, "zero": false}, "axis": null},
                "y2": {"datum": -19.824}
              }
            },
            {
              "data": {"name": "magTicks"}, "transform": [{"filter": "abs(datum.mag - round(datum.mag)) < 0.01"}],
              "mark": {"type": "rule", "color": "black", "strokeWidth": 1.6},
              "encoding": {
                "y": {"field": "mag", "type": "quantitative", "scale": {"domain": [-20, -14], "reverse": true, "nice": false, "zero": false}, "axis": null},
                "x": {"datum": -20, "type": "quantitative", "scale": {"domain": [-20, 80], "nice": false, "zero": false}, "axis": null},
                "x2": {"datum": -16.545}
              }
            },
            {
              "data": {"name": "magTicks"}, "transform": [{"filter": "abs(datum.mag - round(datum.mag)) < 0.01"}],
              "mark": {"type": "rule", "color": "black", "strokeWidth": 1.6},
              "encoding": {
                "y": {"field": "mag", "type": "quantitative", "scale": {"domain": [-20, -14], "reverse": true, "nice": false, "zero": false}, "axis": null},
                "x": {"datum": 80, "type": "quantitative", "scale": {"domain": [-20, 80], "nice": false, "zero": false}, "axis": null},
                "x2": {"datum": 76.545}
              }
            },
            {
              "data": {"name": "magTicks"}, "transform": [{"filter": "abs(datum.mag - round(datum.mag)) >= 0.01"}],
              "mark": {"type": "rule", "color": "black", "strokeWidth": 1.6},
              "encoding": {
                "y": {"field": "mag", "type": "quantitative", "scale": {"domain": [-20, -14], "reverse": true, "nice": false, "zero": false}, "axis": null},
                "x": {"datum": -20, "type": "quantitative", "scale": {"domain": [-20, 80], "nice": false, "zero": false}, "axis": null},
                "x2": {"datum": -18.273}
              }
            },
            {
              "data": {"name": "magTicks"}, "transform": [{"filter": "abs(datum.mag - round(datum.mag)) >= 0.01"}],
              "mark": {"type": "rule", "color": "black", "strokeWidth": 1.6},
              "encoding": {
                "y": {"field": "mag", "type": "quantitative", "scale": {"domain": [-20, -14], "reverse": true, "nice": false, "zero": false}, "axis": null},
                "x": {"datum": 80, "type": "quantitative", "scale": {"domain": [-20, 80], "nice": false, "zero": false}, "axis": null},
                "x2": {"datum": 78.273}
              }
            }
          ],
          "resolve": {"axis": {"x": "independent", "y": "independent"}}
        },
        {
          "width": 521, "height": 306,
          "layer": [
            {
              "data": {"name": "iband"},
              "mark": {"type": "line", "interpolate": "monotone", "clip": true},
              "encoding": {
                "x": {"field": "t", "type": "quantitative", "scale": {"domain": [-20, 80], "nice": false, "zero": false},
                  "axis": {"orient": "bottom", "values": [-20, 0, 20, 40, 60, 80],
                    "labelExpr": "'' + datum.value", "labelPadding": 8, "title": "Time from B-band Maximum", "titlePadding": 3}},
                "y": {"field": "mag", "type": "quantitative", "scale": {"domain": [-20, -14], "reverse": true, "nice": false, "zero": false},
                  "axis": {"orient": "left", "values": [-20, -19, -18, -17, -16, -15, -14],
                    "labelExpr": "'' + datum.value", "labelPadding": 9, "title": "Absolute Magnitude", "titlePadding": 3}},
                "color": {"field": "sn", "type": "nominal", "scale": {"domain": ["1991T", "2011fe"], "range": ["#E69F00", "#000000"]},
                  "legend": {"orient": "none", "legendX": 415, "legendY": 197, "title": null, "columns": 1, "symbolType": "stroke", "symbolSize": 1600,
                    "labelAlign": "right", "labelOffset": -54, "labelFontSize": 21, "labelColor": "black", "rowPadding": 0, "padding": 0}},
                "strokeWidth": {"field": "sn", "type": "nominal", "scale": {"domain": ["1991T", "2011fe"], "range": [5, 1.5]},
                  "legend": {"orient": "none", "legendX": 415, "legendY": 197, "title": null, "columns": 1, "symbolType": "stroke", "symbolSize": 1600,
                    "labelAlign": "right", "labelOffset": -54, "labelFontSize": 21, "labelColor": "black", "rowPadding": 0, "padding": 0}}
              }
            },
            {
              "data": {"values": [{"label": "I-band Photometry"}]},
              "mark": {"type": "text", "align": "left", "baseline": "middle", "fontSize": 21, "color": "black"},
              "encoding": {
                "x": {"datum": -13.3, "type": "quantitative", "scale": {"domain": [-20, 80], "nice": false, "zero": false}, "axis": null},
                "y": {"datum": -14.73, "type": "quantitative", "scale": {"domain": [-20, -14], "reverse": true, "nice": false, "zero": false}, "axis": null},
                "text": {"field": "label"}
              }
            },
            {
              "data": {"name": "dayTicks"}, "transform": [{"filter": "datum.t % 20 === 0"}],
              "mark": {"type": "rule", "color": "black", "strokeWidth": 1.6},
              "encoding": {
                "x": {"field": "t", "type": "quantitative", "scale": {"domain": [-20, 80], "nice": false, "zero": false}, "axis": null},
                "y": {"datum": -14, "type": "quantitative", "scale": {"domain": [-20, -14], "reverse": true, "nice": false, "zero": false}, "axis": null},
                "y2": {"datum": -14.353}
              }
            },
            {
              "data": {"name": "dayTicks"}, "transform": [{"filter": "datum.t % 20 === 0"}],
              "mark": {"type": "rule", "color": "black", "strokeWidth": 1.6},
              "encoding": {
                "x": {"field": "t", "type": "quantitative", "scale": {"domain": [-20, 80], "nice": false, "zero": false}, "axis": null},
                "y": {"datum": -20, "type": "quantitative", "scale": {"domain": [-20, -14], "reverse": true, "nice": false, "zero": false}, "axis": null},
                "y2": {"datum": -19.647}
              }
            },
            {
              "data": {"name": "dayTicks"}, "transform": [{"filter": "datum.t % 20 !== 0"}],
              "mark": {"type": "rule", "color": "black", "strokeWidth": 1.6},
              "encoding": {
                "x": {"field": "t", "type": "quantitative", "scale": {"domain": [-20, 80], "nice": false, "zero": false}, "axis": null},
                "y": {"datum": -14, "type": "quantitative", "scale": {"domain": [-20, -14], "reverse": true, "nice": false, "zero": false}, "axis": null},
                "y2": {"datum": -14.176}
              }
            },
            {
              "data": {"name": "dayTicks"}, "transform": [{"filter": "datum.t % 20 !== 0"}],
              "mark": {"type": "rule", "color": "black", "strokeWidth": 1.6},
              "encoding": {
                "x": {"field": "t", "type": "quantitative", "scale": {"domain": [-20, 80], "nice": false, "zero": false}, "axis": null},
                "y": {"datum": -20, "type": "quantitative", "scale": {"domain": [-20, -14], "reverse": true, "nice": false, "zero": false}, "axis": null},
                "y2": {"datum": -19.824}
              }
            },
            {
              "data": {"name": "magTicks"}, "transform": [{"filter": "abs(datum.mag - round(datum.mag)) < 0.01"}],
              "mark": {"type": "rule", "color": "black", "strokeWidth": 1.6},
              "encoding": {
                "y": {"field": "mag", "type": "quantitative", "scale": {"domain": [-20, -14], "reverse": true, "nice": false, "zero": false}, "axis": null},
                "x": {"datum": -20, "type": "quantitative", "scale": {"domain": [-20, 80], "nice": false, "zero": false}, "axis": null},
                "x2": {"datum": -16.545}
              }
            },
            {
              "data": {"name": "magTicks"}, "transform": [{"filter": "abs(datum.mag - round(datum.mag)) < 0.01"}],
              "mark": {"type": "rule", "color": "black", "strokeWidth": 1.6},
              "encoding": {
                "y": {"field": "mag", "type": "quantitative", "scale": {"domain": [-20, -14], "reverse": true, "nice": false, "zero": false}, "axis": null},
                "x": {"datum": 80, "type": "quantitative", "scale": {"domain": [-20, 80], "nice": false, "zero": false}, "axis": null},
                "x2": {"datum": 76.545}
              }
            },
            {
              "data": {"name": "magTicks"}, "transform": [{"filter": "abs(datum.mag - round(datum.mag)) >= 0.01"}],
              "mark": {"type": "rule", "color": "black", "strokeWidth": 1.6},
              "encoding": {
                "y": {"field": "mag", "type": "quantitative", "scale": {"domain": [-20, -14], "reverse": true, "nice": false, "zero": false}, "axis": null},
                "x": {"datum": -20, "type": "quantitative", "scale": {"domain": [-20, 80], "nice": false, "zero": false}, "axis": null},
                "x2": {"datum": -18.273}
              }
            },
            {
              "data": {"name": "magTicks"}, "transform": [{"filter": "abs(datum.mag - round(datum.mag)) >= 0.01"}],
              "mark": {"type": "rule", "color": "black", "strokeWidth": 1.6},
              "encoding": {
                "y": {"field": "mag", "type": "quantitative", "scale": {"domain": [-20, -14], "reverse": true, "nice": false, "zero": false}, "axis": null},
                "x": {"datum": 80, "type": "quantitative", "scale": {"domain": [-20, 80], "nice": false, "zero": false}, "axis": null},
                "x2": {"datum": 78.273}
              }
            }
          ],
          "resolve": {"axis": {"x": "independent", "y": "independent"}}
        }
      ],
      "spacing": 74,
      "bounds": "flush",
      "resolve": {"scale": {"color": "independent", "strokeWidth": "independent"}}
    },
    {
      "width": 546, "height": 688,
      "layer": [
        {
          "data": {"name": "bands"},
          "mark": {"type": "rect", "color": "#D3D3D3"},
          "encoding": {
            "x": {"field": "lo", "type": "quantitative", "scale": {"domain": [3000, 10000], "nice": false, "zero": false},
              "axis": {"orient": "bottom", "values": [3000, 4000, 5000, 6000, 7000, 8000, 9000, 10000],
                "labelExpr": "'' + datum.value", "labelPadding": 8, "title": "Wavelength [Å]", "titlePadding": 3}},
            "x2": {"field": "hi"},
            "y": {"datum": 10, "type": "quantitative", "scale": {"domain": [0, 10], "nice": false, "zero": false},
              "axis": {"orient": "left", "labels": false, "title": "Scaled Flux in Arbitrary Units", "titlePadding": 5}},
            "y2": {"datum": 2.08}
          }
        },
        {
          "data": {"name": "lamTicks"}, "transform": [{"filter": "datum.lam % 1000 === 0"}],
          "mark": {"type": "rule", "color": "black", "strokeWidth": 1.6},
          "encoding": {
            "x": {"field": "lam", "type": "quantitative", "scale": {"domain": [3000, 10000], "nice": false, "zero": false}, "axis": null},
            "y": {"datum": 0, "type": "quantitative", "scale": {"domain": [0, 10], "nice": false, "zero": false}, "axis": null},
            "y2": {"datum": 0.2615}
          }
        },
        {
          "data": {"name": "lamTicks"}, "transform": [{"filter": "datum.lam % 1000 === 0"}],
          "mark": {"type": "rule", "color": "black", "strokeWidth": 1.6},
          "encoding": {
            "x": {"field": "lam", "type": "quantitative", "scale": {"domain": [3000, 10000], "nice": false, "zero": false}, "axis": null},
            "y": {"datum": 10, "type": "quantitative", "scale": {"domain": [0, 10], "nice": false, "zero": false}, "axis": null},
            "y2": {"datum": 9.7385}
          }
        },
        {
          "data": {"name": "lamTicks"}, "transform": [{"filter": "datum.lam % 1000 !== 0"}],
          "mark": {"type": "rule", "color": "black", "strokeWidth": 1.6},
          "encoding": {
            "x": {"field": "lam", "type": "quantitative", "scale": {"domain": [3000, 10000], "nice": false, "zero": false}, "axis": null},
            "y": {"datum": 0, "type": "quantitative", "scale": {"domain": [0, 10], "nice": false, "zero": false}, "axis": null},
            "y2": {"datum": 0.1307}
          }
        },
        {
          "data": {"name": "lamTicks"}, "transform": [{"filter": "datum.lam % 1000 !== 0"}],
          "mark": {"type": "rule", "color": "black", "strokeWidth": 1.6},
          "encoding": {
            "x": {"field": "lam", "type": "quantitative", "scale": {"domain": [3000, 10000], "nice": false, "zero": false}, "axis": null},
            "y": {"datum": 10, "type": "quantitative", "scale": {"domain": [0, 10], "nice": false, "zero": false}, "axis": null},
            "y2": {"datum": 9.8693}
          }
        },
        {
          "data": {"name": "bands"},
          "transform": [{"filter": "datum.lo < 4500"}],
          "mark": {"type": "text", "align": "left", "baseline": "middle", "dx": -3, "fontSize": 17, "color": "black"},
          "encoding": {
            "x": {"field": "lo", "type": "quantitative", "scale": {"domain": [3000, 10000], "nice": false, "zero": false}, "axis": null},
            "y": {"datum": 9.64, "type": "quantitative", "scale": {"domain": [0, 10], "nice": false, "zero": false}, "axis": null},
            "text": {"field": "ion"}
          }
        },
        {
          "data": {"name": "bands"},
          "transform": [{"filter": "datum.lo > 4500"}],
          "mark": {"type": "text", "align": "left", "baseline": "middle", "dx": -3, "fontSize": 17, "color": "black"},
          "encoding": {
            "x": {"field": "lo", "type": "quantitative", "scale": {"domain": [3000, 10000], "nice": false, "zero": false}, "axis": null},
            "y": {"datum": 9.42, "type": "quantitative", "scale": {"domain": [0, 10], "nice": false, "zero": false}, "axis": null},
            "text": {"field": "ion"}
          }
        },
        {
          "data": {"name": "spectra"},
          "mark": {"type": "line", "color": "#009E73", "strokeWidth": 3.2, "strokeJoin": "round", "clip": true},
          "encoding": {
            "x": {"field": "lam", "type": "quantitative", "scale": {"domain": [3000, 10000], "nice": false, "zero": false}, "axis": null},
            "y": {"field": "flux", "type": "quantitative", "scale": {"domain": [0, 10], "nice": false, "zero": false}, "axis": null},
            "detail": {"field": "epoch"}
          }
        },
        {
          "data": {"values": [{"label": "91T -11.0d"}]},
          "mark": {"type": "text", "align": "center", "baseline": "middle", "fontSize": 17, "color": "#009E73"},
          "encoding": {
            "x": {"datum": 8230, "type": "quantitative", "scale": {"domain": [3000, 10000], "nice": false, "zero": false}, "axis": null},
            "y": {"datum": 8.48, "type": "quantitative", "scale": {"domain": [0, 10], "nice": false, "zero": false}, "axis": null},
            "text": {"field": "label"}
          }
        },
        {
          "data": {"values": [{"label": "91T -8.0d"}]},
          "mark": {"type": "text", "align": "center", "baseline": "middle", "fontSize": 17, "color": "#009E73"},
          "encoding": {
            "x": {"datum": 9203, "type": "quantitative", "scale": {"domain": [3000, 10000], "nice": false, "zero": false}, "axis": null},
            "y": {"datum": 6.45, "type": "quantitative", "scale": {"domain": [0, 10], "nice": false, "zero": false}, "axis": null},
            "text": {"field": "label"}
          }
        },
        {
          "data": {"values": [{"label": "91T -3.0d"}]},
          "mark": {"type": "text", "align": "center", "baseline": "middle", "fontSize": 17, "color": "#009E73"},
          "encoding": {
            "x": {"datum": 9203, "type": "quantitative", "scale": {"domain": [3000, 10000], "nice": false, "zero": false}, "axis": null},
            "y": {"datum": 4.41, "type": "quantitative", "scale": {"domain": [0, 10], "nice": false, "zero": false}, "axis": null},
            "text": {"field": "label"}
          }
        },
        {
          "data": {"values": [{"label": "91T +7.0d"}]},
          "mark": {"type": "text", "align": "center", "baseline": "middle", "fontSize": 17, "color": "#009E73"},
          "encoding": {
            "x": {"datum": 9318, "type": "quantitative", "scale": {"domain": [3000, 10000], "nice": false, "zero": false}, "axis": null},
            "y": {"datum": 2.785, "type": "quantitative", "scale": {"domain": [0, 10], "nice": false, "zero": false}, "axis": null},
            "text": {"field": "label"}
          }
        },
        {
          "data": {"values": [{"label": "91T +258d"}]},
          "mark": {"type": "text", "align": "center", "baseline": "middle", "fontSize": 17, "color": "#009E73"},
          "encoding": {
            "x": {"datum": 9201, "type": "quantitative", "scale": {"domain": [3000, 10000], "nice": false, "zero": false}, "axis": null},
            "y": {"datum": 0.737, "type": "quantitative", "scale": {"domain": [0, 10], "nice": false, "zero": false}, "axis": null},
            "text": {"field": "label"}
          }
        }
      ],
      "resolve": {"axis": {"x": "independent", "y": "independent"}}
    }
  ],
  "spacing": 27
}
